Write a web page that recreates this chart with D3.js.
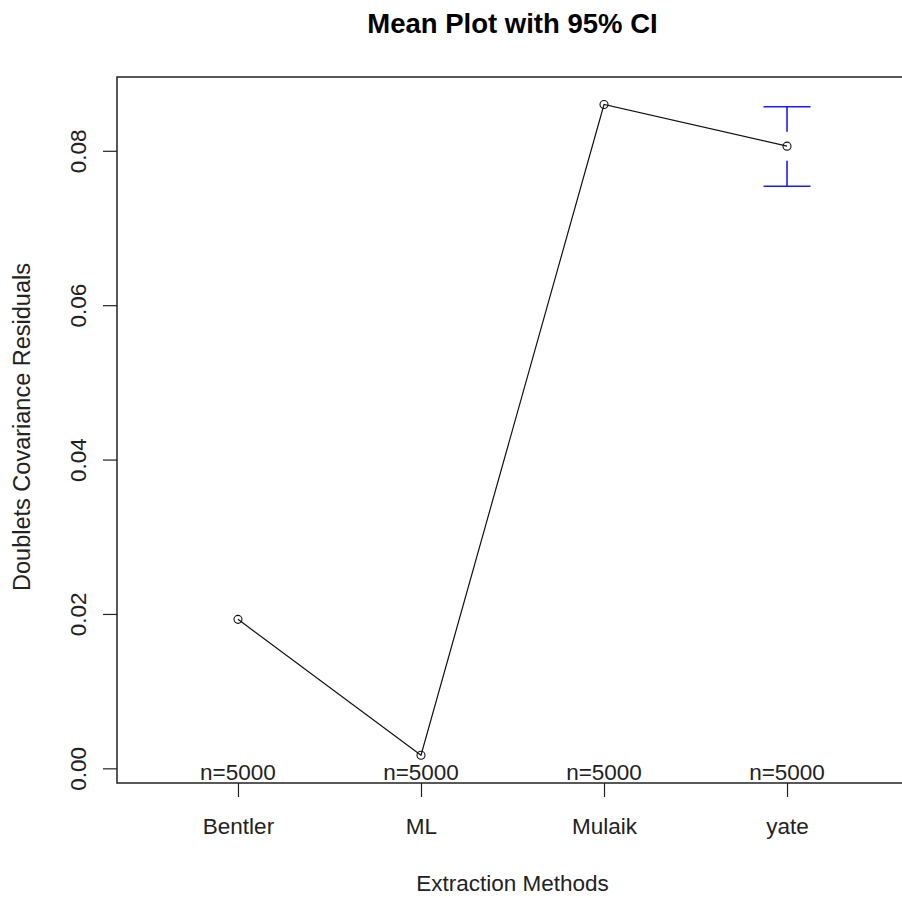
<!DOCTYPE html>
<html>
<head>
<meta charset="utf-8">
<script src="https://cdn.jsdelivr.net/npm/d3@7"></script>
<style>
  body { margin: 0; background: #fff; }
  text { font-family: "Liberation Sans", Arial, sans-serif; }
</style>
</head>
<body>
<svg id="svg-main" width="902" height="898"></svg>
<script>
// values
var methods = ["Bentler", "ML", "Mulaik", "yate"];
var means = [0.0193, 0.0017, 0.0860, 0.0806];
var ciLower = [0.0190, 0.0014, 0.0857, 0.0754];
var ciUpper = [0.0196, 0.0020, 0.0863, 0.0857];
var counts = [5000, 5000, 5000, 5000];
var yTicks = [0.00, 0.02, 0.04, 0.06, 0.08];

function drawPlot() {
  var svg = d3.select("#svg-main");

  // plot region, R style (the right edge runs off the picture)
  var boxLeft = 117, boxRight = 908, boxTop = 77, boxBottom = 783;
  var fontSize = "22.5px";

  var x = d3.scaleLinear().domain([0.339, 4.661]).range([boxLeft, boxRight]);
  var y = d3.scaleLinear().domain([-0.0019, 0.08956]).range([boxBottom, boxTop]);

  var gap = 14.5;

  // title
  svg.append("text")
    .attr("x", (boxLeft + boxRight) / 2)
    .attr("y", 33)
    .attr("text-anchor", "middle")
    .attr("font-weight", "bold")
    .style("font-size", "27.5px")
    .text("Mean Plot with 95% CI");

  // box
  svg.append("rect")
    .attr("x", boxLeft)
    .attr("y", boxTop)
    .attr("width", boxRight - boxLeft)
    .attr("height", boxBottom - boxTop)
    .attr("fill", "none")
    .attr("stroke", "#222")
    .attr("stroke-width", 1.5);

  // y axis
  var yAxis = d3.axisLeft(y)
    .tickValues(yTicks)
    .tickSize(14)
    .tickFormat(d3.format(".2f"));

  var gy = svg.append("g")
    .attr("transform", "translate(" + boxLeft + ",0)")
    .call(yAxis);
  gy.select(".domain").remove();
  gy.selectAll(".tick line").attr("stroke", "#222").attr("stroke-width", 1.2);
  gy.selectAll(".tick text")
    .attr("x", null)
    .attr("text-anchor", "middle")
    .attr("transform", "translate(-39,0) rotate(-90)")
    .attr("dy", "0.35em")
    .attr("fill", "#222")
    .style("font-size", fontSize)
    .style("font-family", "Liberation Sans, Arial, sans-serif");

  // x axis
  var xAxis = d3.axisBottom(x)
    .tickValues(methods.map(function(d, i) { return i + 1; }))
    .tickSize(14)
    .tickPadding(21)
    .tickFormat(function(d) { return methods[d - 1]; });

  var gx = svg.append("g")
    .attr("transform", "translate(0," + boxBottom + ")")
    .call(xAxis);
  gx.select(".domain").remove();
  gx.selectAll(".tick line").attr("stroke", "#222").attr("stroke-width", 1.2);
  gx.selectAll(".tick text")
    .attr("fill", "#222")
    .style("font-size", fontSize)
    .style("font-family", "Liberation Sans, Arial, sans-serif");

  // axis titles
  svg.append("text")
    .attr("x", (boxLeft + boxRight) / 2)
    .attr("y", 891)
    .attr("text-anchor", "middle")
    .attr("fill", "#222")
    .style("font-size", fontSize)
    .text("Extraction Methods");

  svg.append("text")
    .attr("transform", "translate(30," + ((boxTop + boxBottom) / 2 - 3) + ") rotate(-90)")
    .attr("text-anchor", "middle")
    .attr("fill", "#222")
    .style("font-size", "23.5px")
    .text("Doublets Covariance Residuals");

  // n labels
  svg.selectAll(".nlab")
    .data(counts)
    .enter()
    .append("text")
    .attr("class", "nlab")
    .attr("x", function(d, i) { return x(i + 1); })
    .attr("y", boxBottom - 3)
    .attr("text-anchor", "middle")
    .attr("fill", "#222")
    .style("font-size", fontSize)
    .text(function(d) { return "n=" + d; });

  // connecting line
  var line = d3.line()
    .x(function(d, i) { return x(i + 1); })
    .y(function(d) { return y(d); });

  svg.append("path")
    .datum(means)
    .attr("d", line)
    .attr("fill", "none")
    .attr("stroke", "#111")
    .attr("stroke-width", 1.2);

  // confidence bars, drawn only outside the gap round each point
  var ci = svg.append("g").attr("stroke", "#1a1aff").attr("stroke-width", 1.6);
  means.forEach(function(m, i) {
    var cx = x(i + 1);
    var yu = y(ciUpper[i]), yl = y(ciLower[i]), ym = y(m);
    if (yu < ym - gap) {
      ci.append("line").attr("x1", cx).attr("x2", cx).attr("y1", yu).attr("y2", ym - gap);
      ci.append("line").attr("x1", cx - 23.5).attr("x2", cx + 23.5).attr("y1", yu).attr("y2", yu);
    }
    if (yl > ym + gap) {
      ci.append("line").attr("x1", cx).attr("x2", cx).attr("y1", yl).attr("y2", ym + gap);
      ci.append("line").attr("x1", cx - 23.5).attr("x2", cx + 23.5).attr("y1", yl).attr("y2", yl);
    }
  });

  // points
  svg.selectAll(".pt")
    .data(means)
    .enter()
    .append("circle")
    .attr("class", "pt")
    .attr("cx", function(d, i) { return x(i + 1); })
    .attr("cy", function(d) { return y(d); })
    .attr("r", 4)
    .attr("fill", "none")
    .attr("stroke", "#111")
    .attr("stroke-width", 1.1);
}

drawPlot();
</script>
</body>
</html>
